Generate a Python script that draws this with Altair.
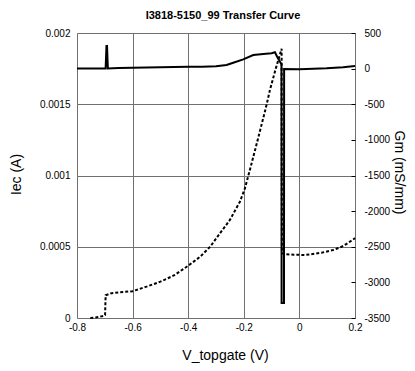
import altair as alt
import pandas as pd

# Iec (A) dotted curve, left axis
iec_v = [-0.752, -0.73, -0.71, -0.699, -0.697, -0.68, -0.65, -0.6, -0.55, -0.5, -0.45, -0.4,
         -0.357, -0.321, -0.286, -0.25, -0.214, -0.196, -0.178, -0.15, -0.12, -0.106, -0.085,
         -0.064, -0.063, -0.055, -0.02, 0.02, 0.08, 0.121, 0.152, 0.17, 0.2]
iec_a = [0.0, 0.000005, 0.000012, 0.00002, 0.00016, 0.000172, 0.00018, 0.000188, 0.00022,
         0.000255, 0.0003, 0.000367, 0.00043, 0.0005, 0.000594, 0.000688, 0.000816, 0.00091,
         0.00104, 0.00125, 0.00148, 0.0016, 0.00175, 0.00189, 0.000455, 0.000449, 0.000444,
         0.000442, 0.000458, 0.000477, 0.0005, 0.00052, 0.00056]

# Gm (mS/mm) solid curve, right axis
gm_v = [-0.8, -0.75, -0.7, -0.697, -0.694, -0.692, -0.689, -0.65, -0.6, -0.5, -0.4, -0.35,
        -0.3, -0.262, -0.238, -0.202, -0.166, -0.13, -0.1, -0.088, -0.08, -0.07, -0.0645,
        -0.064, -0.0555, -0.055, 0.0, 0.05, 0.098, 0.157, 0.2]
gm_val = [2, 3, 3, 3, 317, 317, 3, 8, 13, 20, 27, 27, 35, 50, 83, 130, 190, 205, 215, 229,
          167, 97, 60, -3290, -3290, -5, -8, -2, 4, 18, 36]

x_ticks = [-0.8, -0.6, -0.4, -0.2, 0, 0.2]
left_ticks = [0, 0.0005, 0.001, 0.0015, 0.002]
right_ticks = [-3500, -3000, -2500, -2000, -1500, -1000, -500, 0, 500]
title_text = ["I3818-5150_99 Transfer Curve"]

df_iec = pd.DataFrame({"V": iec_v, "Iec": iec_a, "order": range(len(iec_v))})
df_gm = pd.DataFrame({"V": gm_v, "Gm": gm_val, "order": range(len(gm_v))})
df_title = pd.DataFrame({"t": title_text})

FONT = "Liberation Sans"

x_enc = alt.X(
    "V:Q",
    scale=alt.Scale(domain=[-0.8, 0.2], nice=False, zero=False),
    axis=alt.Axis(
        values=x_ticks, labelExpr="toString(datum.value)", title="V_topgate (V)",
        grid=True, gridColor="#707070", gridWidth=1, ticks=False, tickSize=0,
        domain=False, labelPadding=4, labelFontSize=10, labelFont=FONT,
        labelColor="black", titleFontSize=14, titleFont=FONT, titleFontWeight="normal",
        titleColor="black", titleX=148, titleY=37, titleAlign="center",
        titleBaseline="middle", labelFlush=False,
    ),
)

iec_line = alt.Chart(df_iec).mark_line(
    color="black", strokeWidth=2, strokeDash=[3, 2]
).encode(
    x=x_enc,
    y=alt.Y(
        "Iec:Q",
        scale=alt.Scale(domain=[0, 0.002], nice=False, zero=False),
        axis=alt.Axis(
            orient="left", values=left_ticks, labelExpr="toString(datum.value)",
            title="Iec (A)", grid=True, gridColor="#707070", gridWidth=1,
            ticks=False, tickSize=0, domain=False, labelPadding=7, labelFontSize=10,
            labelFont=FONT, labelColor="black", titleFontSize=14, titleFont=FONT,
            titleFontWeight="normal", titleColor="black", titleAngle=-90,
            titleX=-61, titleY=141, titleAlign="center", titleBaseline="middle",
            labelFlush=False,
        ),
    ),
    order="order:Q",
)

gm_line = alt.Chart(df_gm).mark_line(color="black", strokeWidth=2).encode(
    x=alt.X("V:Q", scale=alt.Scale(domain=[-0.8, 0.2], nice=False, zero=False)),
    y=alt.Y(
        "Gm:Q",
        scale=alt.Scale(domain=[-3500, 500], nice=False, zero=False),
        axis=alt.Axis(
            orient="right", values=right_ticks, labelExpr="toString(datum.value)",
            title="Gm (mS/mm)", grid=False, ticks=True, tickSize=4, tickColor="black",
            tickWidth=1, offset=-4, domain=False, labelPadding=9, labelFontSize=10,
            labelFont=FONT, labelColor="black", titleFontSize=14, titleFont=FONT,
            titleFontWeight="normal", titleColor="black", titleAngle=90,
            titleX=47, titleY=139, titleAlign="center", titleBaseline="middle",
            labelFlush=False,
        ),
    ),
    order="order:Q",
)

title_mark = alt.Chart(df_title).mark_text(
    font=FONT, fontSize=11, fontWeight="bold", color="black",
    align="center", baseline="alphabetic",
).encode(text="t:N", x=alt.value(146), y=alt.value(-14))

chart = (
    alt.layer(iec_line, gm_line, title_mark)
    .resolve_scale(y="independent")
    .properties(
        width=278,
        height=285,
        autosize=alt.AutoSizeParams(type="none"),
        padding={"left": 69, "top": 25, "right": 52, "bottom": 45},
    )
    .configure_view(stroke="black", strokeWidth=2)
    .configure(background="white")
)

chart.save("out.html", embed_options={"renderer": "svg", "actions": False})
